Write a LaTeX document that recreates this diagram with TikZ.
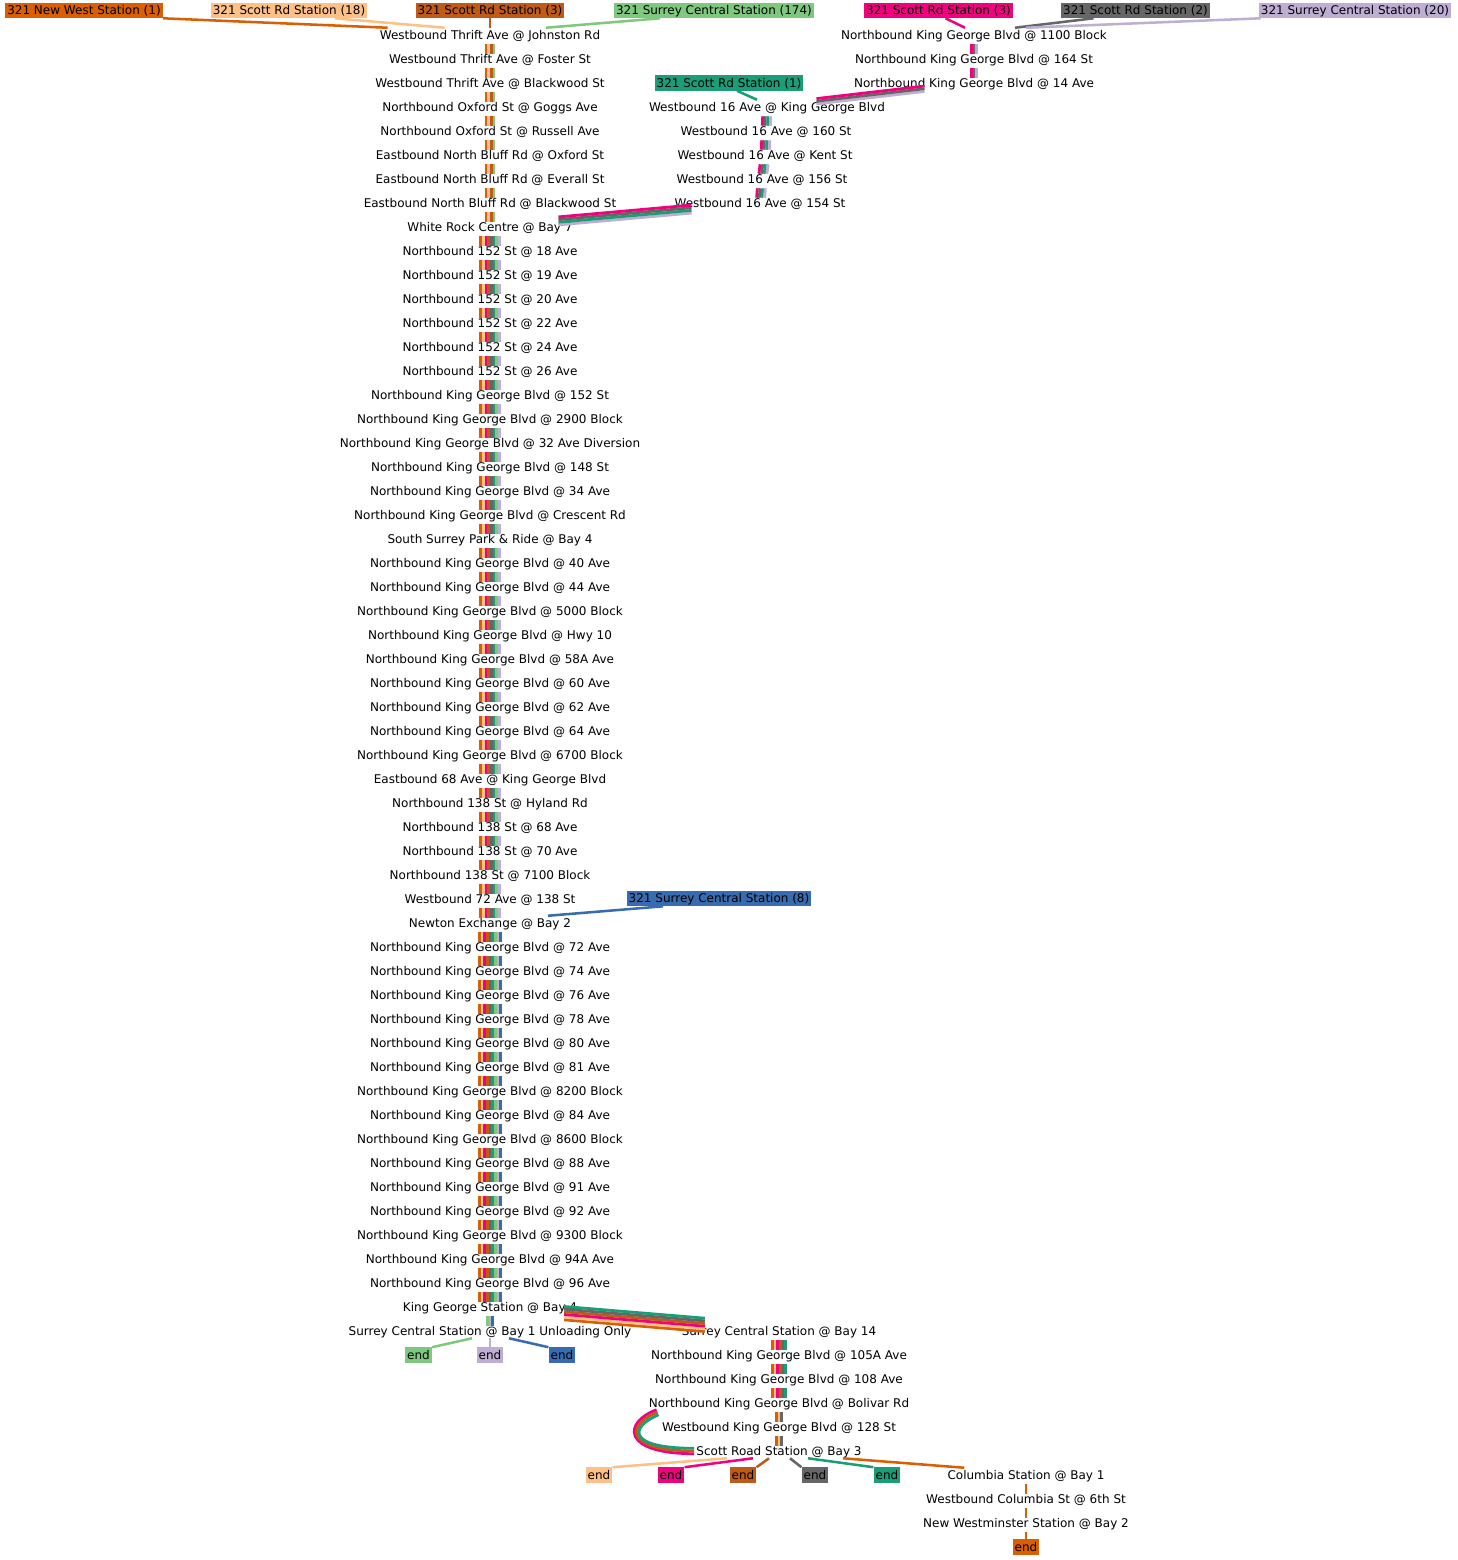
\documentclass[tikz,border=0pt]{standalone}
\usepackage{fontspec}
\setmainfont{DejaVu Sans}
\usetikzlibrary{calc}

\definecolor{cOr}{HTML}{D95F02}
\definecolor{cPe}{HTML}{FDC086}
\definecolor{cBr}{HTML}{BF5B17}
\definecolor{cGr}{HTML}{7FC97F}
\definecolor{cPk}{HTML}{F0027F}
\definecolor{cGy}{HTML}{666666}
\definecolor{cLv}{HTML}{BEAED4}
\definecolor{cTl}{HTML}{1B9E77}
\definecolor{cBl}{HTML}{386CB0}

\newcommand{\stopfont}{\fontsize{9}{11}\selectfont}
\newcommand{\gapw}{2pt}

\tikzset{
  stoptext/.style={font=\stopfont, inner sep=0pt, text height=8.5pt, text depth=2pt},
  srcbox/.style={stoptext, fill=#1, inner xsep=1.5pt, inner ysep=0.4pt},
  strand/.style={line width=2.1pt},
  feed/.style={line width=1.9pt, draw=#1},
}

% parallel strands between two stops, one per route
\newcommand{\vbundle}[3]{%
  \foreach \col [count=\nn] in {#3} {\global\let\nstr\nn}%
  \foreach \col [count=\k] in {#3}
    \draw[strand, \col, transform canvas={yshift=-1.5pt, xshift={(\k-(\nstr+1)/2)*\gapw}}] (#1) -- (#2);}
\newcommand{\sbundle}[3]{%
  \foreach \col [count=\nn] in {#3} {\global\let\nstr\nn}%
  \foreach \col [count=\k] in {#3}
    \draw[strand, \col, shorten <=-10pt, shorten >=-10pt,
      transform canvas={yshift={(\k-(\nstr+1)/2)*\gapw}}] (#1) -- (#2);}

\begin{document}
\begin{tikzpicture}[x=0.75pt, y=-0.75pt]
  \useasboundingbox (0,0) rectangle (1458,1560);

  % route starts
  \node[srcbox=cOr] (srcNW) at (84,10.5) {321 New West Station (1)};
  \node[srcbox=cPe] (srcSR18) at (289,10.5) {321 Scott Rd Station (18)};
  \node[srcbox=cBr] (srcSR3a) at (490,10.5) {321 Scott Rd Station (3)};
  \node[srcbox=cGr] (srcSC174) at (714,10.5) {321 Surrey Central Station (174)};
  \node[srcbox=cPk] (srcSR3b) at (938.5,10.5) {321 Scott Rd Station (3)};
  \node[srcbox=cGy] (srcSR2) at (1135.5,10.5) {321 Scott Rd Station (2)};
  \node[srcbox=cLv] (srcSC20) at (1355,10.5) {321 Surrey Central Station (20)};
  \node[srcbox=cTl] (srcSR1) at (729,83) {321 Scott Rd Station (1)};
  \node[srcbox=cBl] (srcSC8) at (719,898.5) {321 Surrey Central Station (8)};

  % main line
  \foreach \txt [count=\i] in {
      Westbound Thrift Ave @ Johnston Rd,
      Westbound Thrift Ave @ Foster St,
      Westbound Thrift Ave @ Blackwood St,
      Northbound Oxford St @ Goggs Ave,
      Northbound Oxford St @ Russell Ave,
      Eastbound North Bluff Rd @ Oxford St,
      Eastbound North Bluff Rd @ Everall St,
      Eastbound North Bluff Rd @ Blackwood St,
      White Rock Centre @ Bay 7,
      Northbound 152 St @ 18 Ave,
      Northbound 152 St @ 19 Ave,
      Northbound 152 St @ 20 Ave,
      Northbound 152 St @ 22 Ave,
      Northbound 152 St @ 24 Ave,
      Northbound 152 St @ 26 Ave,
      Northbound King George Blvd @ 152 St,
      Northbound King George Blvd @ 2900 Block,
      Northbound King George Blvd @ 32 Ave Diversion,
      Northbound King George Blvd @ 148 St,
      Northbound King George Blvd @ 34 Ave,
      Northbound King George Blvd @ Crescent Rd,
      South Surrey Park \& Ride @ Bay 4,
      Northbound King George Blvd @ 40 Ave,
      Northbound King George Blvd @ 44 Ave,
      Northbound King George Blvd @ 5000 Block,
      Northbound King George Blvd @ Hwy 10,
      Northbound King George Blvd @ 58A Ave,
      Northbound King George Blvd @ 60 Ave,
      Northbound King George Blvd @ 62 Ave,
      Northbound King George Blvd @ 64 Ave,
      Northbound King George Blvd @ 6700 Block,
      Eastbound 68 Ave @ King George Blvd,
      Northbound 138 St @ Hyland Rd,
      Northbound 138 St @ 68 Ave,
      Northbound 138 St @ 70 Ave,
      Northbound 138 St @ 7100 Block,
      Westbound 72 Ave @ 138 St,
      Newton Exchange @ Bay 2,
      Northbound King George Blvd @ 72 Ave,
      Northbound King George Blvd @ 74 Ave,
      Northbound King George Blvd @ 76 Ave,
      Northbound King George Blvd @ 78 Ave,
      Northbound King George Blvd @ 80 Ave,
      Northbound King George Blvd @ 81 Ave,
      Northbound King George Blvd @ 8200 Block,
      Northbound King George Blvd @ 84 Ave,
      Northbound King George Blvd @ 8600 Block,
      Northbound King George Blvd @ 88 Ave,
      Northbound King George Blvd @ 91 Ave,
      Northbound King George Blvd @ 92 Ave,
      Northbound King George Blvd @ 9300 Block,
      Northbound King George Blvd @ 94A Ave,
      Northbound King George Blvd @ 96 Ave,
      King George Station @ Bay 4,
      Surrey Central Station @ Bay 1 Unloading Only}
    \node[stoptext] (m\i) at (490,{35+24*(\i-1)}) {\txt};

  % 16 Ave branch
  \node[stoptext] (a1) at (767,107) {Westbound 16 Ave @ King George Blvd};
  \node[stoptext] (a2) at (766,131) {Westbound 16 Ave @ 160 St};
  \node[stoptext] (a3) at (765,155) {Westbound 16 Ave @ Kent St};
  \node[stoptext] (a4) at (762,179) {Westbound 16 Ave @ 156 St};
  \node[stoptext] (a5) at (760,203) {Westbound 16 Ave @ 154 St};

  % King George north branch
  \node[stoptext] (k1) at (974,35) {Northbound King George Blvd @ 1100 Block};
  \node[stoptext] (k2) at (974,59) {Northbound King George Blvd @ 164 St};
  \node[stoptext] (k3) at (974,83) {Northbound King George Blvd @ 14 Ave};

  % Surrey Central to Scott Road
  \node[stoptext] (s1) at (779,1331) {Surrey Central Station @ Bay 14};
  \node[stoptext] (s2) at (779,1355) {Northbound King George Blvd @ 105A Ave};
  \node[stoptext] (s3) at (779,1379) {Northbound King George Blvd @ 108 Ave};
  \node[stoptext] (s4) at (779,1403) {Northbound King George Blvd @ Bolivar Rd};
  \node[stoptext] (s5) at (779,1427) {Westbound King George Blvd @ 128 St};
  \node[stoptext] (s6) at (779,1451) {Scott Road Station @ Bay 3};

  % New Westminster
  \node[stoptext] (c1) at (1026,1475) {Columbia Station @ Bay 1};
  \node[stoptext] (c2) at (1026,1499) {Westbound Columbia St @ 6th St};
  \node[stoptext] (c3) at (1026,1523) {New Westminster Station @ Bay 2};

  % route ends
  \node[srcbox=cGr] (endGr) at (418.5,1355) {end};
  \node[srcbox=cLv] (endLv) at (490,1355) {end};
  \node[srcbox=cBl] (endBl) at (562,1355) {end};
  \node[srcbox=cPe] (endPe) at (599,1475) {end};
  \node[srcbox=cPk] (endPk) at (671,1475) {end};
  \node[srcbox=cBr] (endBr) at (743,1475) {end};
  \node[srcbox=cGy] (endGy) at (815,1475) {end};
  \node[srcbox=cTl] (endTl) at (887,1475) {end};
  \node[srcbox=cOr] (endOr) at (1026,1547) {end};

  % feeds from the starts
  \draw[feed=cOr] (srcNW.south east) -- ($(m1.north west)+(8,0)$);
  \draw[feed=cPe] ($(srcSR18.south)+(46,0)$) -- ($(m1.north west)+(65,0)$);
  \draw[feed=cBr] (srcSR3a.south) -- (m1.north);
  \draw[feed=cGr] ($(srcSC174.south)+(-54,0)$) -- ($(m1.north)+(56,0)$);
  \draw[feed=cPk] ($(srcSR3b.south)+(7,0)$) -- ($(k1.north)+(-9,0)$);
  \draw[feed=cGy] ($(srcSR2.south)+(-42,0)$) -- ($(k1.north)+(41,0)$);
  \draw[feed=cLv] ($(srcSC20.south west)+(2,0)$) -- ($(k1.north)+(52,0)$);
  \draw[feed=cTl] ($(srcSR1.south)+(8,0)$) -- ($(a1.north)+(-10,0)$);
  \draw[feed=cBl] ($(srcSC8.south)+(-56,0)$) -- ($(m38.north)+(58,0)$);

  % shared sections
  \foreach \i [evaluate=\i as \j using int(\i+1)] in {1,...,8}
    \vbundle{m\i}{m\j}{cOr,cPe,cBr,cGr};
  \foreach \i [evaluate=\i as \j using int(\i+1)] in {9,...,37}
    \vbundle{m\i}{m\j}{cOr,cPe,cPk,cBr,cGy,cTl,cGr,cLv};
  \foreach \i [evaluate=\i as \j using int(\i+1)] in {38,...,53}
    \vbundle{m\i}{m\j}{cOr,cPe,cPk,cBr,cGy,cTl,cGr,cLv,cBl};
  \vbundle{m54}{m55}{cGr,cLv,cBl};
  \foreach \i [evaluate=\i as \j using int(\i+1)] in {1,...,4}
    \vbundle{a\i}{a\j}{cPk,cGy,cTl,cLv};
  \foreach \i [evaluate=\i as \j using int(\i+1)] in {1,2}
    \vbundle{k\i}{k\j}{cPk,cGy,cLv};
  \foreach \i [evaluate=\i as \j using int(\i+1)] in {1,2,3}
    \vbundle{s\i}{s\j}{cOr,cPe,cPk,cBr,cGy,cTl};
  \foreach \i [evaluate=\i as \j using int(\i+1)] in {4,5}
    \vbundle{s\i}{s\j}{cOr,cPe,cGy};
  \vbundle{c1}{c2}{cOr};
  \vbundle{c2}{c3}{cOr};
  \vbundle{c3}{endOr}{cOr};

  \sbundle{k3}{a1}{cLv,cGy,cPk};
  \sbundle{a5}{m9}{cLv,cTl,cGy,cPk};
  \sbundle{m54}{s1}{cOr,cPe,cPk,cBr,cGy,cTl};

  % loop round from Bolivar Rd
  \foreach \c/\k in {cPk/-1, cBr/0, cTl/1}
    \draw[strand, \c] ($(s4.south west)+({9+\k},{2+2.5*\k})$)
      .. controls +({-31+2*\k},12) and +({-71+3*\k},0) .. ($(s6.west)+(-2,{-2.7*\k})$);

  % feeds to the ends
  \draw[feed=cGr] ($(m55.south)+(-18,0)$) -- (endGr.north east);
  \draw[feed=cLv] (m55.south) -- (endLv.north);
  \draw[feed=cBl] ($(m55.south)+(19,0)$) -- (endBl.north west);
  \draw[feed=cPe] ($(s6.south)+(-52,0)$) -- (endPe.north east);
  \draw[feed=cPk] ($(s6.south)+(-26,0)$) -- (endPk.north east);
  \draw[feed=cBr] ($(s6.south)+(-10,0)$) -- (endBr.north east);
  \draw[feed=cGy] ($(s6.south)+(11,0)$) -- (endGy.north west);
  \draw[feed=cTl] ($(s6.south)+(29,0)$) -- (endTl.north west);
  \draw[feed=cOr] ($(s6.south)+(64,0)$) -- ($(c1.north west)+(17,0)$);
\end{tikzpicture}
\end{document}
